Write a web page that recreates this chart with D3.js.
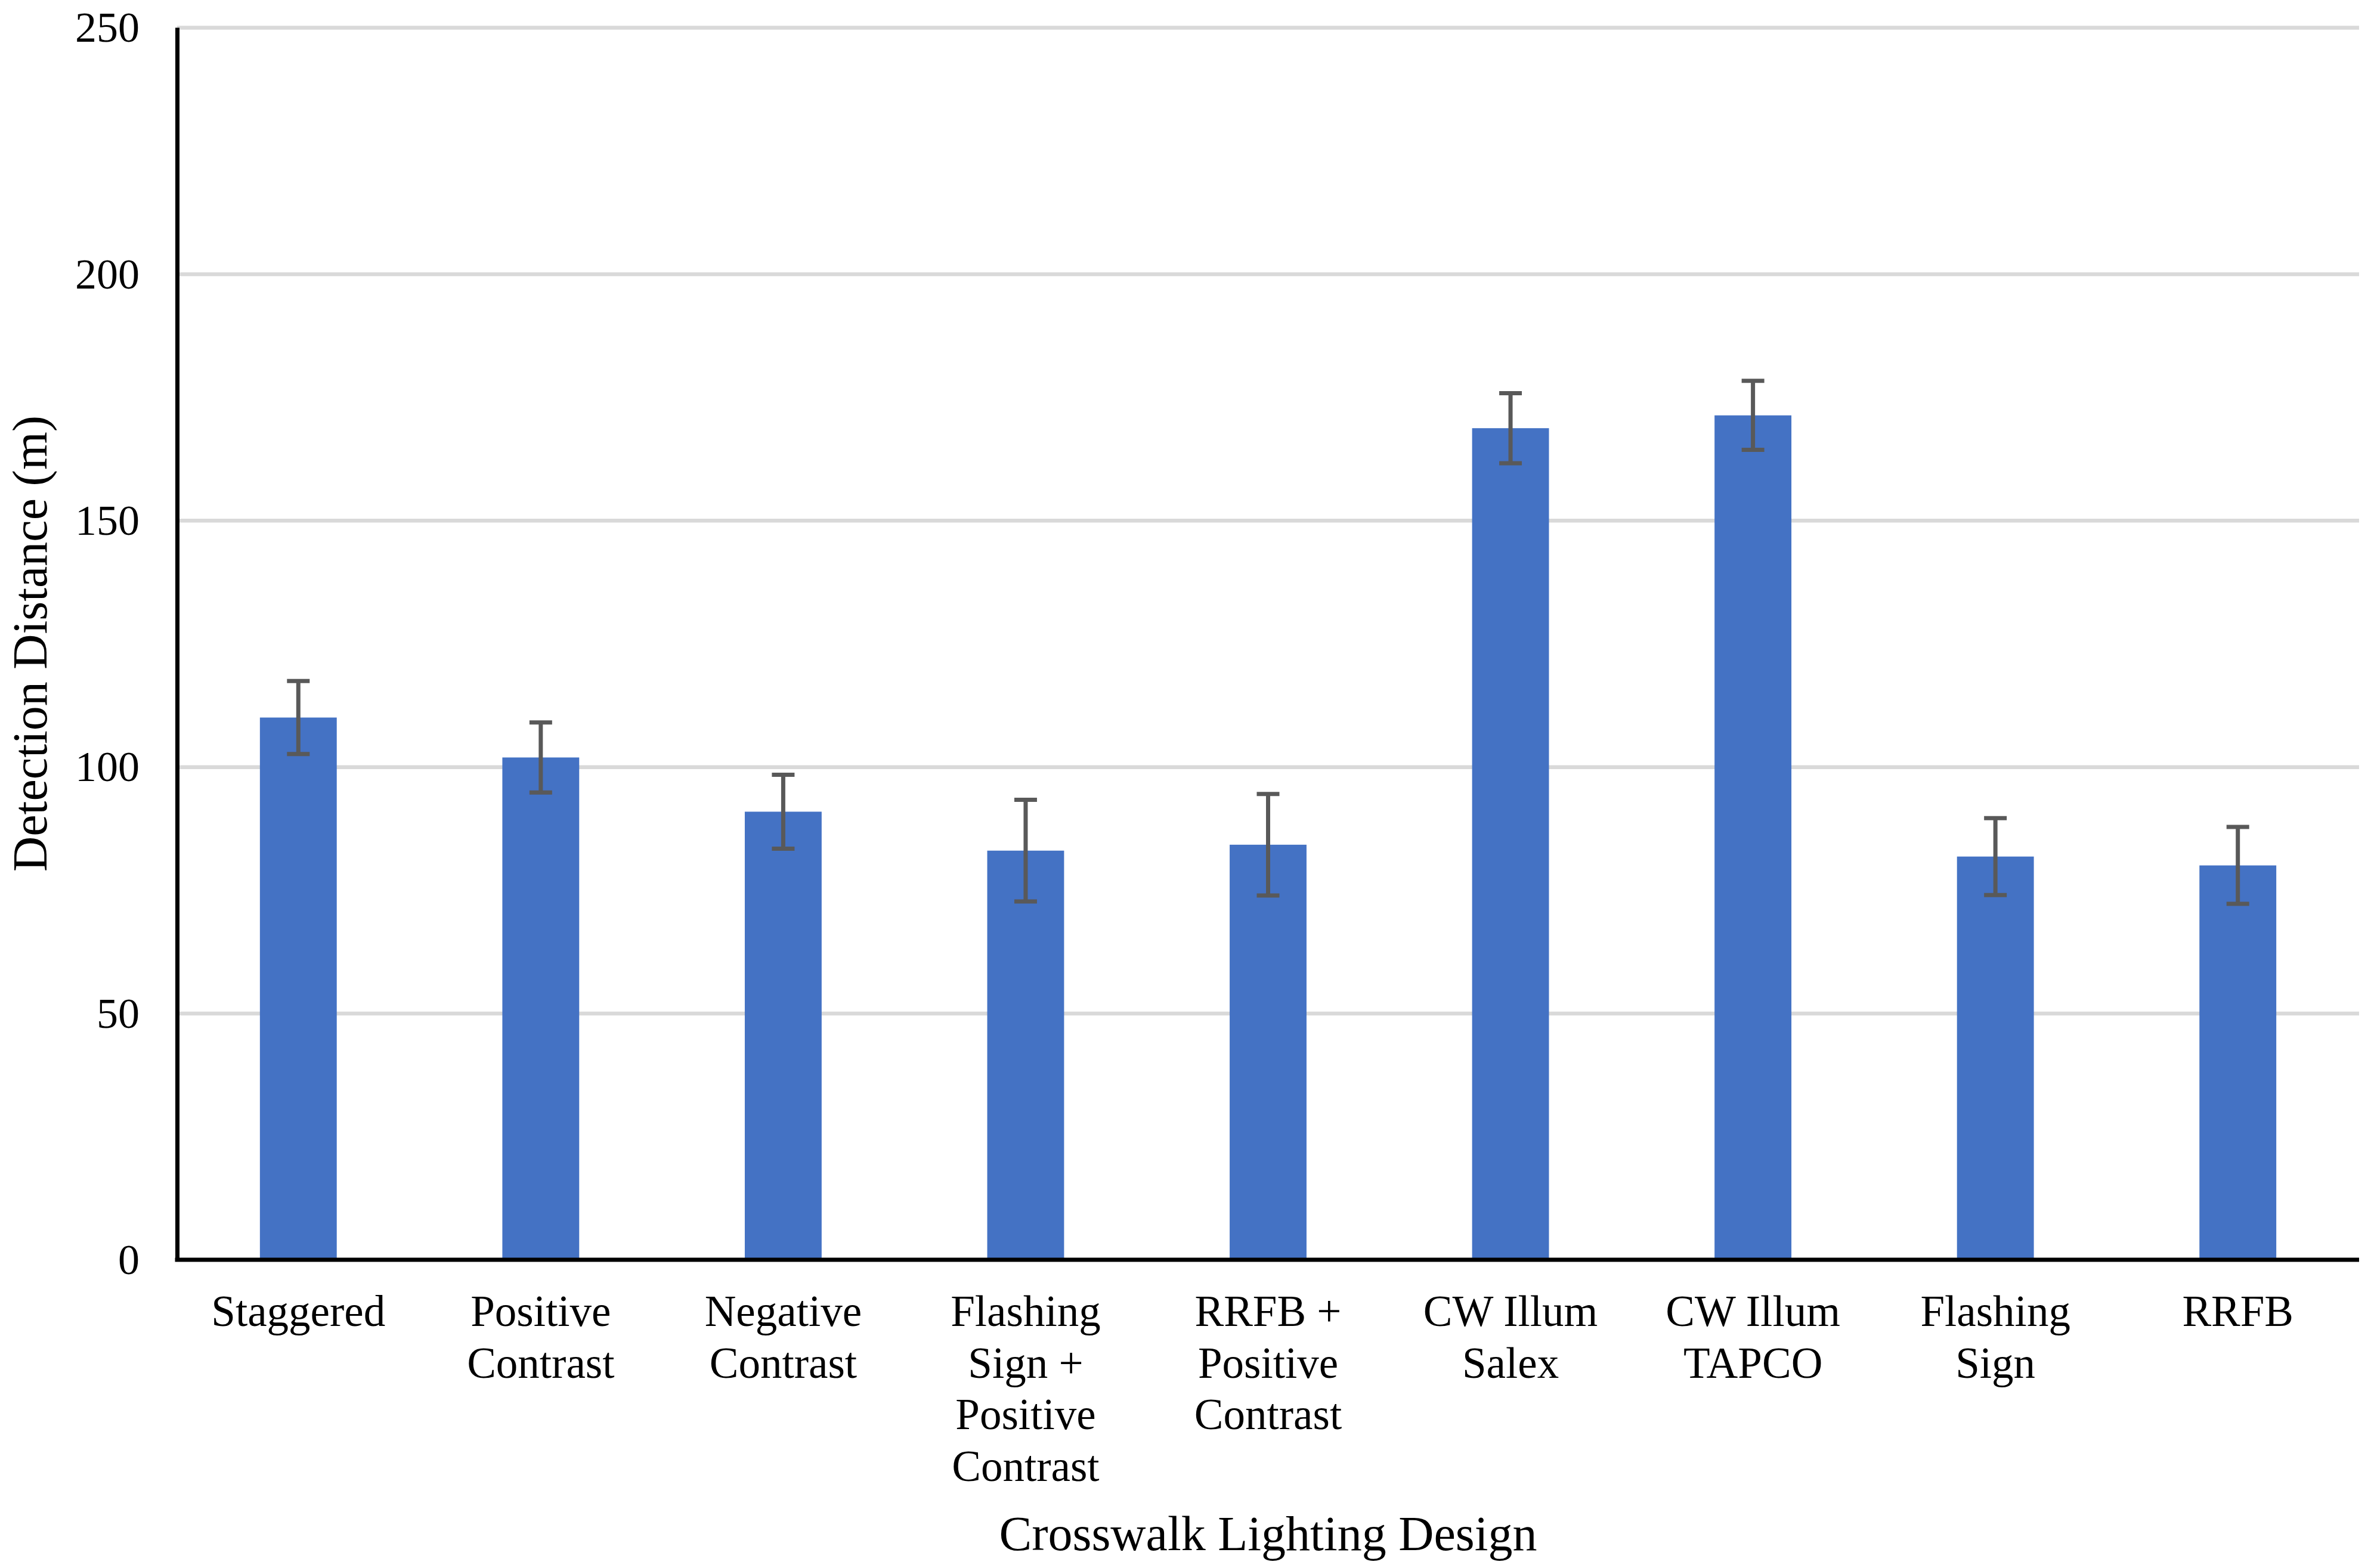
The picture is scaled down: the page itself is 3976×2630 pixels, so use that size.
<!DOCTYPE html>
<html>
<head>
<meta charset="utf-8">
<script src="https://cdn.jsdelivr.net/npm/d3@7"></script>
<style>
  html, body { margin: 0; padding: 0; background: #ffffff; }
  svg { display: block; }
</style>
</head>
<body>
<script>
// ---- Data ----
const categories = [
  "Staggered",
  "Positive Contrast",
  "Negative Contrast",
  "Flashing Sign + Positive Contrast",
  "RRFB + Positive Contrast",
  "CW Illum Salex",
  "CW Illum TAPCO",
  "Flashing Sign",
  "RRFB"
];
const categoryLines = [
  ["Staggered"],
  ["Positive", "Contrast"],
  ["Negative", "Contrast"],
  ["Flashing", "Sign +", "Positive", "Contrast"],
  ["RRFB +", "Positive", "Contrast"],
  ["CW Illum", "Salex"],
  ["CW Illum", "TAPCO"],
  ["Flashing", "Sign"],
  ["RRFB"]
];
const detectionDistance = [110.0, 101.9, 90.9, 83.0, 84.2, 168.7, 171.3, 81.8, 80.0];
const errorMargin = [7.4, 7.1, 7.5, 10.3, 10.3, 7.1, 7.0, 7.8, 7.8];
const yTicks = [0, 50, 100, 150, 200, 250];
const xTitle = "Crosswalk Lighting Design";
const yTitle = "Detection Distance (m)";

// ---- Layout ----
const W = 3976, H = 2630;
const mLeft = 297, mRight = 3956, mTop = 46, mBottom = 2113;
const font = "'Liberation Serif', 'Times New Roman', Times, serif";

const svg = d3.select("body").append("svg")
  .attr("width", W).attr("height", H)
  .attr("viewBox", `0 0 ${W} ${H}`);
svg.append("rect").attr("width", W).attr("height", H).attr("fill", "#ffffff");

const data = categories.map((c, i) => ({ c, v: detectionDistance[i], e: errorMargin[i], lines: categoryLines[i] }));

const x = d3.scaleBand().domain(categories).range([mLeft, mRight])
  .paddingInner(0.683).paddingOuter(0.683 / 2);
const y = d3.scaleLinear().domain([0, 250]).range([mBottom, mTop]);

// Gridlines
svg.append("g")
  .attr("transform", `translate(${mLeft},0)`)
  .call(d3.axisLeft(y).tickValues(yTicks.filter(t => t > 0)).tickSize(-(mRight - mLeft)).tickFormat(""))
  .call(g => g.select(".domain").remove())
  .call(g => g.selectAll(".tick line").attr("stroke", "#d9d9d9").attr("stroke-width", 6.5));

// Bars
svg.append("g").selectAll("rect").data(data).join("rect")
  .attr("x", d => x(d.c))
  .attr("width", x.bandwidth())
  .attr("y", d => y(d.v))
  .attr("height", d => y(0) - y(d.v))
  .attr("fill", "#4472c4");

// Error bars
const capW = 38;
const eb = svg.append("g").attr("stroke", "#595959").attr("stroke-width", 7).attr("fill", "none");
const cx = d => x(d.c) + x.bandwidth() / 2;
eb.selectAll("line.v").data(data).join("line").attr("class", "v")
  .attr("x1", cx).attr("x2", cx)
  .attr("y1", d => y(d.v + d.e)).attr("y2", d => y(d.v - d.e));
eb.selectAll("line.t").data(data).join("line").attr("class", "t")
  .attr("x1", d => cx(d) - capW / 2).attr("x2", d => cx(d) + capW / 2)
  .attr("y1", d => y(d.v + d.e)).attr("y2", d => y(d.v + d.e));
eb.selectAll("line.b").data(data).join("line").attr("class", "b")
  .attr("x1", d => cx(d) - capW / 2).attr("x2", d => cx(d) + capW / 2)
  .attr("y1", d => y(d.v - d.e)).attr("y2", d => y(d.v - d.e));

// Y axis
const yAxis = svg.append("g")
  .attr("transform", `translate(${mLeft},0)`)
  .call(d3.axisLeft(y).tickValues(yTicks).tickSize(0).tickSizeOuter(0).tickPadding(63).tickFormat(d3.format("d")));
yAxis.select(".domain").attr("stroke", "#000").attr("stroke-width", 7);
yAxis.selectAll(".tick text")
  .attr("font-family", font).attr("font-size", 72).attr("fill", "#000")
  .attr("dy", "0.33em");

// X axis
const xAxis = svg.append("g")
  .attr("transform", `translate(0,${mBottom})`)
  .call(d3.axisBottom(x).tickSize(0).tickSizeOuter(0).tickFormat(""));
xAxis.select(".domain").attr("stroke", "#000").attr("stroke-width", 7)
  .attr("d", `M${mLeft - 3.5},0H${mRight}`);
xAxis.selectAll(".tick").each(function (d, i) {
  const t = d3.select(this).append("text")
    .attr("font-family", font).attr("font-size", 73).attr("fill", "#000")
    .attr("text-anchor", "middle");
  categoryLines[i].forEach((ln, k) => {
    t.append("tspan").attr("x", 0).attr("y", 111 + k * 86.5).text(ln);
  });
});

// Axis titles
svg.append("text")
  .attr("x", (mLeft + mRight) / 2).attr("y", 2600)
  .attr("text-anchor", "middle")
  .attr("font-family", font).attr("font-size", 82).attr("fill", "#000")
  .text(xTitle);
svg.append("text")
  .attr("transform", `translate(78,${(mTop + mBottom) / 2}) rotate(-90)`)
  .attr("text-anchor", "middle")
  .attr("font-family", font).attr("font-size", 82).attr("fill", "#000")
  .text(yTitle);
</script>
</body>
</html>
